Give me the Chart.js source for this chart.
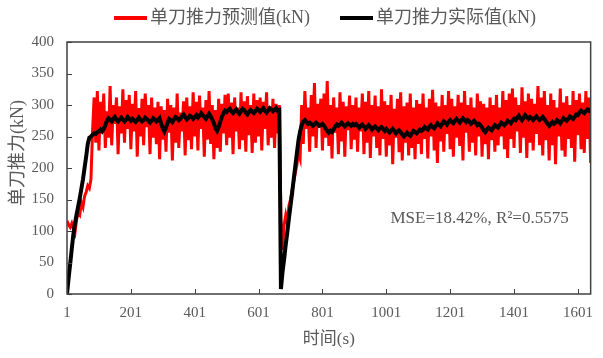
<!DOCTYPE html>
<html>
<head>
<meta charset="utf-8">
<script src="https://cdn.jsdelivr.net/npm/chart.js@4/dist/chart.umd.min.js"></script>
<style>
  html, body { margin: 0; padding: 0; background: #fff; }
  #wrap { width: 603px; height: 358px; }
</style>
</head>
<body>
<div id="wrap"><canvas id="thrustChart" width="603" height="358"></canvas></div>
<script>
// sampled every 5 s, starting at t = 1 s
const sampleStep = 5;

// 单刀推力预测值 (kN)
const thrustPredicted = [
  116, 110, 106, 112, 104, 97, 118, 130, 126, 145, 138, 155, 162, 172, 168, 182, 258, 312, 240, 322,
  228, 305, 262, 318, 232, 290, 248, 330, 236, 300, 270, 312, 222, 298, 255, 325, 240, 308, 262, 316,
  230, 302, 258, 322, 218, 295, 250, 310, 236, 318, 265, 300, 222, 312, 248, 296, 238, 305, 214, 298,
  245, 292, 226, 310, 256, 300, 212, 296, 240, 318, 232, 288, 258, 306, 220, 312, 244, 298, 230, 320,
  250, 305, 228, 315, 262, 296, 218, 308, 245, 322, 238, 300, 214, 292, 232, 310, 226, 302, 255, 316,
  236, 318, 248, 304, 222, 312, 258, 296, 230, 320, 244, 306, 226, 314, 252, 300, 224, 318, 240, 308,
  250, 312, 228, 305, 262, 320, 236, 298, 248, 310, 232, 302, 255, 300, 118, 70, 110, 125, 112, 140,
  150, 165, 178, 192, 205, 224, 215, 300, 238, 322, 262, 296, 226, 316, 250, 335, 232, 302, 270, 310,
  228, 318, 248, 338, 235, 300, 215, 312, 256, 296, 222, 320, 242, 305, 218, 298, 260, 315, 230, 300,
  245, 312, 226, 296, 258, 318, 222, 305, 240, 322, 216, 300, 250, 315, 232, 298, 220, 325, 246, 306,
  218, 300, 236, 316, 206, 294, 248, 310, 225, 320, 212, 298, 240, 304, 220, 318, 232, 296, 214, 308,
  238, 302, 222, 318, 246, 296, 215, 310, 250, 324, 228, 304, 208, 298, 242, 316, 226, 300, 254, 322,
  230, 310, 218, 298, 248, 316, 235, 304, 212, 322, 256, 300, 226, 312, 240, 296, 220, 318, 250, 306,
  218, 302, 238, 296, 214, 312, 244, 300, 226, 316, 236, 296, 250, 322, 230, 308, 216, 318, 246, 326,
  232, 312, 258, 300, 224, 328, 248, 306, 216, 318, 240, 310, 228, 302, 254, 330, 236, 312, 220, 322,
  244, 300, 212, 318, 236, 308, 206, 296, 250, 326, 228, 304, 218, 314, 246, 300, 232, 322, 210, 308,
  252, 318, 230, 304, 224, 322, 246, 312, 208
];

// 单刀推力实际值 (kN)
const thrustActual = [
  0, 25, 48, 72, 95, 112, 126, 139, 152, 167, 182, 200, 218, 238, 248, 250, 253, 255, 254, 257,
  258, 261, 258, 262, 268, 275, 279, 277, 274, 278, 281, 277, 274, 277, 280, 277, 274, 277, 281, 278,
  275, 278, 276, 273, 276, 280, 277, 274, 276, 280, 278, 275, 272, 275, 279, 277, 274, 276, 279, 270,
  263, 258, 264, 272, 278, 276, 273, 277, 281, 279, 276, 278, 282, 285, 281, 277, 279, 283, 281, 278,
  281, 284, 280, 283, 287, 284, 281, 278, 282, 286, 282, 277, 271, 263, 259, 265, 273, 281, 287, 291,
  289, 292, 294, 290, 287, 290, 293, 289, 286, 290, 294, 292, 288, 285, 289, 292, 290, 287, 290, 294,
  292, 289, 292, 295, 291, 288, 291, 295, 293, 290, 292, 295, 291, 292, 8, 35, 55, 78, 98, 120,
  140, 160, 182, 203, 224, 244, 258, 268, 274, 276, 273, 270, 272, 270, 267, 269, 272, 270, 267, 268,
  270, 267, 263, 259, 256, 259, 257, 261, 266, 269, 267, 269, 272, 269, 266, 268, 271, 269, 267, 270,
  268, 270, 267, 264, 267, 269, 266, 262, 265, 268, 265, 261, 264, 266, 263, 260, 263, 265, 262, 259,
  262, 259, 256, 259, 262, 259, 255, 258, 260, 257, 253, 250, 253, 256, 253, 251, 255, 259, 257, 255,
  258, 261, 259, 261, 265, 263, 261, 265, 268, 265, 263, 267, 271, 268, 266, 270, 274, 272, 269, 273,
  276, 273, 271, 275, 278, 275, 272, 276, 279, 276, 273, 276, 274, 270, 272, 275, 272, 268, 270, 268,
  264, 260, 257, 261, 264, 262, 260, 264, 268, 266, 264, 268, 272, 270, 268, 271, 275, 273, 271, 275,
  278, 276, 280, 283, 279, 276, 280, 284, 281, 278, 281, 279, 276, 279, 282, 279, 276, 278, 281, 278,
  274, 270, 267, 270, 273, 270, 272, 276, 274, 271, 275, 279, 277, 275, 278, 282, 280, 278, 281, 285,
  284, 288, 291, 289, 287, 290, 293, 291, 294
];

const xTicks = [1, 201, 401, 601, 801, 1001, 1201, 1401, 1601];
const yTicks = [0, 50, 100, 150, 200, 250, 300, 350, 400];

const timeSec = thrustActual.map((_, i) => 1 + i * sampleStep);
const toPoints = arr => arr.map((v, i) => ({ x: timeSec[i], y: v }));

const serif = '"Liberation Serif", "Times New Roman", "Noto Sans CJK SC", serif';
const textGray = '#595959';

// frame, inward tick marks, legend, y title and the fit note
const decorations = {
  id: 'decorations',
  afterDatasetsDraw(chart) {
    const { ctx, chartArea: a, scales: { x, y } } = chart;
    ctx.save();
    ctx.strokeStyle = '#404040';
    ctx.lineWidth = 1.5;
    ctx.strokeRect(a.left, a.top, a.right - a.left, a.bottom - a.top);
    ctx.lineWidth = 1;
    ctx.beginPath();
    xTicks.forEach(v => {
      const px = Math.round(x.getPixelForValue(v)) + 0.5;
      ctx.moveTo(px, a.bottom);
      ctx.lineTo(px, a.bottom - 5);
    });
    yTicks.forEach(v => {
      const py = Math.round(y.getPixelForValue(v)) + 0.5;
      ctx.moveTo(a.left, py);
      ctx.lineTo(a.left + 5, py);
    });
    ctx.stroke();

    // fit note
    ctx.fillStyle = textGray;
    ctx.font = '17px ' + serif;
    ctx.textAlign = 'left';
    ctx.textBaseline = 'middle';
    ctx.fillText('MSE=18.42%, R²=0.5575', x.getPixelForValue(1014), y.getPixelForValue(120));

    // y axis title
    ctx.save();
    ctx.font = '18px ' + serif;
    ctx.translate(18, 153);
    ctx.rotate(-Math.PI / 2);
    ctx.textAlign = 'center';
    ctx.fillText('单刀推力(kN)', 0, 0);
    ctx.restore();

    // legend
    ctx.font = '18px ' + serif;
    const lineLen = 33, gapText = 3, gapItem = 30;
    const items = chart.data.datasets.map(ds => ({ label: ds.label, color: ds.borderColor }));
    let total = 0;
    items.forEach((it, i) => {
      it.w = ctx.measureText(it.label).width;
      total += lineLen + gapText + it.w + (i ? gapItem : 0);
    });
    let cx = 325 - total / 2;
    const ly = 18;
    items.forEach((it, i) => {
      if (i) cx += gapItem;
      ctx.strokeStyle = it.color;
      ctx.lineWidth = 4;
      ctx.beginPath();
      ctx.moveTo(cx, ly);
      ctx.lineTo(cx + lineLen, ly);
      ctx.stroke();
      cx += lineLen + gapText;
      ctx.fillStyle = textGray;
      ctx.textAlign = 'left';
      ctx.fillText(it.label, cx, ly);
      cx += it.w;
    });
    ctx.restore();
  }
};

new Chart(document.getElementById('thrustChart'), {
  type: 'line',
  data: {
    datasets: [
      {
        label: '单刀推力预测值(kN)',
        data: toPoints(thrustPredicted),
        borderColor: '#ff0000',
        backgroundColor: '#ff0000',
        borderWidth: 3,
        order: 2
      },
      {
        label: '单刀推力实际值(kN)',
        data: toPoints(thrustActual),
        borderColor: '#000000',
        backgroundColor: '#000000',
        borderWidth: 4,
        order: 1
      }
    ]
  },
  options: {
    responsive: false,
    animation: false,
    layout: { padding: { top: 42, right: 5, left: 0, bottom: 0 } },
    elements: { point: { radius: 0 }, line: { tension: 0 } },
    plugins: {
      legend: { display: false },
      tooltip: { enabled: false }
    },
    scales: {
      x: {
        type: 'linear',
        min: 1,
        max: 1641,
        afterBuildTicks: scale => { scale.ticks = xTicks.map(v => ({ value: v })); },
        afterFit: scale => { scale.height = 64; },
        grid: { display: false, drawTicks: false },
        border: { display: false },
        ticks: { color: textGray, font: { family: serif, size: 15 }, padding: 10, maxRotation: 0, autoSkip: false, callback: v => String(v) },
        title: { display: true, text: '时间(s)', color: textGray, font: { family: serif, size: 17 }, padding: { top: 0, bottom: 8 } }
      },
      y: {
        min: 0,
        max: 400,
        afterBuildTicks: scale => { scale.ticks = yTicks.map(v => ({ value: v })); },
        afterFit: scale => { scale.width = 67; },
        grid: { display: false, drawTicks: false },
        border: { display: false },
        ticks: { color: textGray, font: { family: serif, size: 15 }, padding: 13 }
      }
    }
  },
  plugins: [decorations]
});
</script>
</body>
</html>
